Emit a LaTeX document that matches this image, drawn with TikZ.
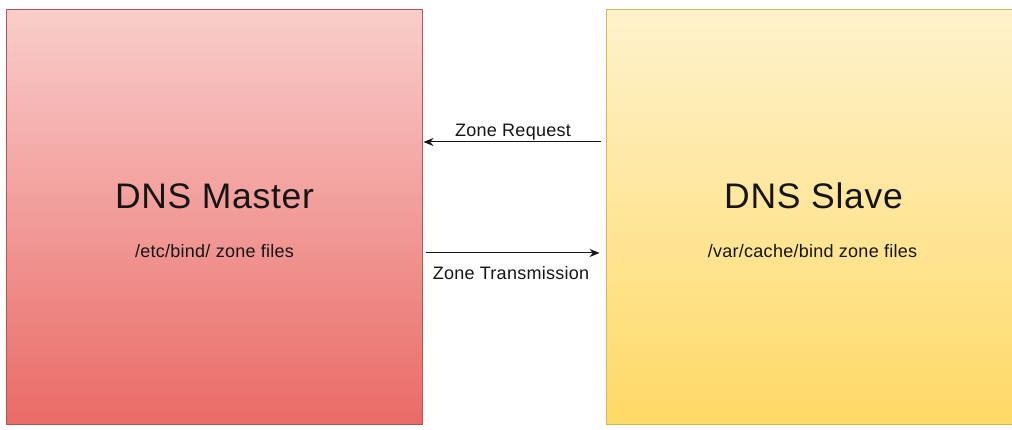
\documentclass[tikz,border=0pt]{standalone}
\usepackage{fontspec}
\setmainfont{Liberation Sans}
\usetikzlibrary{arrows.meta}
\definecolor{mastertop}{HTML}{F9CDCB}
\definecolor{masterbot}{HTML}{EA6A66}
\definecolor{masterline}{HTML}{B85450}
\definecolor{slavetop}{HTML}{FFF2CC}
\definecolor{slavebot}{HTML}{FFD966}
\definecolor{slaveline}{HTML}{D6B656}
\definecolor{ink}{HTML}{151515}
\tikzset{
  server/.style={draw, line width=1pt, minimum width=416pt, minimum height=415pt, inner sep=0pt},
  title/.style={text=ink, font=\fontsize{35.5}{40}\selectfont\addfontfeature{LetterSpace=2}, inner sep=0pt},
  subtitle/.style={text=ink, font=\fontsize{18}{20}\selectfont\addfontfeature{LetterSpace=1.5}, inner sep=0pt},
  msg/.style={text=ink, font=\fontsize{18}{20}\selectfont\addfontfeature{LetterSpace=1.5}, inner sep=0pt},
  arr/.style={draw=ink, line width=1pt, -{Stealth[length=10pt,width=8pt]}}
}
\begin{document}
\begin{tikzpicture}[x=1pt,y=1pt]
  \useasboundingbox (0,0) rectangle (1012,430);
  \clip (0,0) rectangle (1012,430);
  \fill[white] (0,0) rectangle (1012,430);

  % the two name servers
  \node[server, draw=masterline, top color=mastertop, bottom color=masterbot] (master) at (214,212.5) {};
  \node[server, draw=slaveline, top color=slavetop, bottom color=slavebot] (slave) at (814,213) {};

  \node[title] (mtitle) at (214.5,234) {DNS Master};
  \node[subtitle] (msub) at (214.5,179) {/etc/bind/ zone files};
  \node[title] (stitle) at (813.5,234) {DNS Slave};
  \node[subtitle] (ssub) at (812.5,179) {/var/cache/bind zone files};

  % zone request: slave asks master
  \draw[arr] ([xshift=-5pt]slave.west |- 0,288) -- ([xshift=1pt]master.east |- 0,288);
  \node[msg] (req) at (513,298) {Zone Request};

  % zone transfer: master sends to slave
  \draw[arr] ([xshift=3pt]master.east |- 0,177) -- ([xshift=-6pt]slave.west |- 0,177);
  \node[msg] (xfer) at (511,157) {Zone Transmission};
\end{tikzpicture}
\end{document}
